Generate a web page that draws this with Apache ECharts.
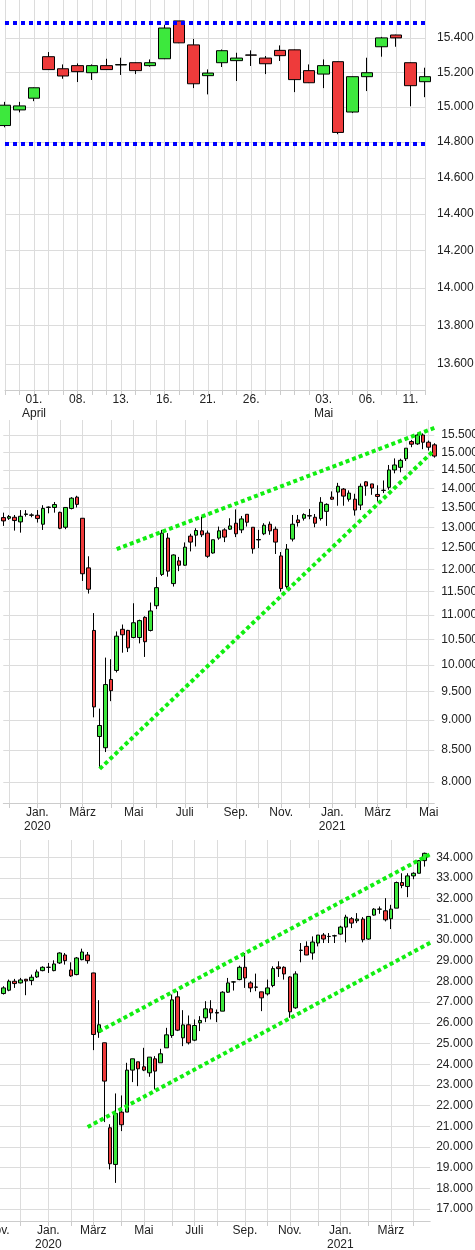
<!DOCTYPE html>
<html>
<head>
<meta charset="utf-8">
<script src="https://cdn.jsdelivr.net/npm/echarts@6/dist/echarts.min.js"></script>
<style>
  html, body { margin: 0; padding: 0; background: #fff; }
  #chart { width: 475px; height: 1250px; }
</style>
</head>
<body>
<div id="chart"></div>
<script>
  // Panel 1: daily candles, 30.03. - 12.05.2021  [open, close, low, high]
  var p1Dates = ['30.03', '31.03', '01.04', '06.04', '07.04', '08.04', '09.04', '12.04', '13.04', '14.04',
    '15.04', '16.04', '19.04', '20.04', '21.04', '22.04', '23.04', '26.04', '27.04', '28.04',
    '29.04', '30.04', '03.05', '04.05', '05.05', '06.05', '07.05', '10.05', '11.05', '12.05']
  var p1LabelDays = ['01.04', '08.04', '13.04', '16.04', '21.04', '26.04', '03.05', '06.05', '11.05']
  var p1Candles = [
    [14894, 15010, 14884, 15029], [14983, 15006, 14969, 15029], [15050, 15110, 15033, 15112],
    [15290, 15215, 15213, 15317], [15220, 15178, 15162, 15245], [15238, 15203, 15143, 15251],
    [15197, 15238, 15155, 15245], [15238, 15215, 15213, 15278], [15242, 15244, 15184, 15284],
    [15255, 15209, 15189, 15257], [15238, 15255, 15232, 15274], [15278, 15458, 15276, 15477],
    [15500, 15371, 15369, 15500], [15359, 15133, 15108, 15394], [15180, 15195, 15072, 15216],
    [15255, 15325, 15230, 15332], [15267, 15282, 15149, 15313], [15300, 15299, 15236, 15327],
    [15282, 15249, 15189, 15294], [15327, 15296, 15265, 15356], [15330, 15157, 15085, 15332],
    [15209, 15139, 15137, 15245], [15189, 15238, 15108, 15274], [15261, 14855, 14845, 15263],
    [14971, 15174, 14965, 15176], [15174, 15197, 15091, 15284], [15348, 15400, 15290, 15406],
    [15417, 15400, 15348, 15419], [15255, 15122, 15004, 15257], [15145, 15174, 15056, 15226]
  ]
  var p1Levels = [15500, 14842]
  var p1Ticks = [13600, 13800, 14000, 14200, 14400, 14600, 14800, 15000, 15200, 15400]

  // Panel 2: weekly candles from 25.11.2019
  var p2Start = '2019-11-25'
  var p2Candles = [
    [13242, 13158, 13033, 13367], [13225, 13267, 13183, 13308], [13250, 13167, 12917, 13308],
    [13133, 13275, 12867, 13433], [13320, 13335, 13267, 13433], [13300, 13310, 13250, 13350],
    [13300, 13217, 13117, 13433], [13075, 13475, 12933, 13558], [13500, 13510, 13350, 13525],
    [13500, 13575, 13367, 13642], [13375, 12976, 12952, 13392], [13000, 13500, 12952, 13500],
    [13475, 13741, 13450, 13768], [13768, 13580, 13500, 13804], [13225, 11897, 11735, 13230],
    [12031, 11551, 11456, 12300], [10678, 9229, 9048, 11037], [8723, 8908, 8221, 9199],
    [8538, 9631, 8468, 10139], [9725, 9519, 9331, 10108], [9894, 10562, 9856, 10658],
    [10701, 10590, 10234, 10799], [10679, 10329, 10247, 10690], [10534, 10836, 10521, 11246],
    [10534, 10880, 10418, 10900], [10948, 10451, 10152, 10970], [10678, 11082, 10658, 11261],
    [11193, 11586, 11121, 11821], [11882, 12855, 11846, 12935], [12734, 11956, 11831, 12855],
    [11676, 12331, 11610, 12346], [12192, 12092, 11956, 12285], [12092, 12516, 12080, 12629],
    [12782, 12637, 12415, 12839], [12806, 12919, 12532, 12976], [12911, 12814, 12758, 13267],
    [12855, 12300, 12262, 12919], [12377, 12694, 12362, 12694], [12734, 12911, 12694, 13017],
    [12935, 12758, 12637, 12976], [12952, 13033, 12935, 13225], [13100, 12839, 12758, 13450],
    [12935, 13208, 12855, 13283], [13325, 13125, 13017, 13325], [13000, 12477, 12362, 13000],
    [12700, 12690, 12492, 12935], [12839, 13050, 12806, 13100], [13075, 12911, 12814, 13142],
    [12952, 12637, 12354, 13017], [12308, 11566, 11500, 12400], [11610, 12469, 11551, 12590],
    [12710, 13075, 12653, 13308], [13183, 13117, 13017, 13308], [13225, 13317, 13167, 13350],
    [13290, 13283, 13200, 13458], [13250, 13100, 13000, 13333], [13217, 13634, 13167, 13768],
    [13400, 13580, 13033, 13607], [13768, 13714, 13696, 13920], [13902, 14056, 13545, 14148],
    [13982, 13795, 13545, 14009], [13714, 13875, 13652, 13946], [13714, 13433, 13292, 13857],
    [13562, 14056, 13433, 14130], [14176, 14065, 13804, 14194], [14120, 14009, 13830, 14120],
    [13839, 13786, 13652, 14083], [13950, 13946, 13875, 14213], [14028, 14500, 13964, 14639],
    [14500, 14639, 14408, 14824], [14574, 14769, 14436, 14815], [14815, 15115, 14750, 15115],
    [15308, 15231, 15144, 15356], [15240, 15500, 15212, 15548], [15500, 15288, 15087, 15548],
    [15288, 15144, 15048, 15337], [15212, 14890, 14845, 15260]
  ]
  // trend lines [index, value]
  var p2Upper = [[20, 12470], [76, 15710]]
  var p2Lower = [[17, 8200], [76, 15060]]
  var p2Ticks = [8000, 8500, 9000, 9500, 10000, 10500, 11000, 11500, 12000, 12500, 13000, 13500, 14000, 14500, 15000, 15500]

  // Panel 3: weekly candles from 28.10.2019 (plus one empty week on each side)
  var p3Start = '2019-10-21'
  var p3Candles = [
    [27100, 27440, 27050, 27500], [27415, 27688, 27367, 27769], [27576, 28010, 27528, 28090],
    [28010, 27897, 27688, 28122], [27929, 28074, 27897, 28170], [28106, 28026, 27335, 28122],
    [28042, 28202, 27817, 28331], [28218, 28459, 28170, 28572], [28523, 28684, 28491, 28732],
    [28680, 28688, 28411, 28893], [28523, 28845, 28491, 29021], [28893, 29375, 28845, 29407],
    [29278, 29005, 28813, 29375], [28556, 28267, 28218, 28925], [28331, 29134, 28299, 29182],
    [29053, 29423, 29021, 29584], [29278, 29005, 28861, 29423], [28411, 25437, 24680, 28420],
    [25549, 25906, 25275, 27094], [25034, 23183, 21202, 25040], [20928, 19189, 18915, 21100],
    [19157, 21621, 18264, 22587], [21685, 21073, 20767, 22490], [21685, 23714, 21685, 24068],
    [23714, 24261, 23134, 24261], [24116, 23778, 22941, 24116], [23875, 23714, 23666, 24792],
    [23585, 24342, 23392, 24342], [24261, 23666, 22780, 24390], [24068, 24503, 24068, 24744],
    [24792, 25420, 24792, 25758], [25388, 27110, 25275, 27367], [27255, 25646, 25600, 27528],
    [25275, 25900, 24873, 26612], [25906, 25034, 24954, 26355], [25163, 25870, 25114, 26163],
    [26002, 26115, 25601, 26323], [26243, 26677, 26034, 27046], [26677, 26484, 26163, 27094],
    [26500, 26470, 26034, 26644], [26564, 27480, 26564, 27528], [27480, 27929, 27447, 28170],
    [27970, 27980, 27560, 28010], [28090, 28684, 28058, 28764], [28684, 28170, 27688, 29375],
    [27929, 27688, 27480, 28010], [27730, 27720, 27528, 28379], [27496, 27207, 26564, 27500],
    [27399, 27688, 27319, 28090], [27801, 28620, 27720, 28732], [28700, 28620, 28218, 28973],
    [28684, 28363, 28090, 28732], [28218, 26532, 26243, 28250], [26725, 28363, 26677, 28491],
    [29500, 29510, 28925, 29857], [29696, 29278, 29270, 29937], [29375, 29905, 29053, 30178],
    [29857, 30242, 29696, 30242], [30242, 30049, 29857, 30338], [30170, 30178, 29857, 30338],
    [30200, 30210, 29857, 30258], [30290, 30627, 30258, 30692], [30627, 31109, 29889, 31222],
    [31029, 30820, 30579, 31109], [30933, 31013, 30820, 31302], [31013, 30017, 29889, 31109],
    [30049, 31141, 30017, 31141], [31206, 31495, 31173, 31543], [31490, 31500, 31270, 31623],
    [31415, 30981, 30901, 32025], [31029, 31495, 30531, 31703], [31543, 32780, 31543, 32828],
    [32780, 32635, 32506, 33229], [32587, 33101, 32073, 33229], [33101, 33229, 32940, 33277],
    [33229, 33839, 33229, 33871], [33839, 34193, 33550, 34225]
  ]
  var p3Upper = [[19, 25585], [78, 34152]]
  var p3Lower = [[17, 20962], [78, 29870]]
  var p3Ticks = [17000, 18000, 19000, 20000, 21000, 22000, 23000, 24000, 25000, 26000,
    27000, 28000, 29000, 30000, 31000, 32000, 33000, 34000]

  var monthNames = ['Jan.', 'Feb.', 'März', 'April', 'Mai', 'Juni', 'Juli', 'Aug.', 'Sep.', 'Okt.', 'Nov.', 'Dez.']

  function weeks(start, n) {
    var out = []
    var d = new Date(start + 'T12:00:00Z')
    for (var i = 0; i < n; i++) {
      out.push(new Date(d.getTime() + i * 7 * 86400000))
    }
    return out
  }
  function fmtNum(v) {
    return String(Math.round(v)).replace(/\B(?=(\d{3})+(?!\d))/g, '.')
  }
  function lg(v) { return Math.log10(v) }
  function lgCandle(c) { return c.map(lg) }

  // Panel 2 month marks: first Monday of a month
  var p2Weeks = weeks(p2Start, p2Candles.length)
  var p2Cats = p2Weeks.map(function (d) { return d.toISOString().slice(0, 10) })
  var p2Month = p2Weeks.map(function (d) { return d.getUTCDate() <= 7 ? d.getUTCMonth() : -1 })
  var p2Year = p2Weeks.map(function (d) { return d.getUTCFullYear() })

  // Panel 3 month marks: week containing the 1st
  var p3Weeks = weeks(p3Start, p3Candles.length + 2)
  var p3Cats = p3Weeks.map(function (d) { return d.toISOString().slice(0, 10) })
  var p3Month = p3Weeks.map(function (d) {
    var e = new Date(d.getTime() + 6 * 86400000)
    if (d.getUTCDate() === 1) return d.getUTCMonth()
    return e.getUTCMonth() !== d.getUTCMonth() ? e.getUTCMonth() : -1
  })
  var p3Year = p3Weeks.map(function (d) { return new Date(d.getTime() + 6 * 86400000).getUTCFullYear() })
  var p3Data = ['-'].concat(p3Candles).concat(['-'])

  var font = { color: '#222', fontSize: 12, fontFamily: 'Liberation Sans, Arial, sans-serif' }
  var grey = '#dcdcdc'
  var candleStyle = {
    color: '#3de83d', color0: '#ee3b3b',
    borderColor: '#000', borderColor0: '#000', borderColorDoji: '#000', borderWidth: 1
  }
  var dotGreen = { color: '#11ee11', width: 4, type: [4, 3] }

  function monthAxis(gridIndex, cats, months, years) {
    var isMark = function (i) { return months[i] >= 0 }
    return {
      type: 'category', gridIndex: gridIndex, data: cats, boundaryGap: false,
      axisLine: { lineStyle: { color: '#ccc' } },
      axisTick: { show: true, interval: isMark, length: 5, lineStyle: { color: '#ccc' } },
      splitLine: { show: true, interval: isMark, lineStyle: { color: grey } },
      axisLabel: Object.assign({
        interval: function (i) { return months[i] >= 0 && months[i] % 2 === 0 },
        lineHeight: 14, margin: 3,
        formatter: function (v, i) {
          var m = months[i]
          return monthNames[m] + (m === 0 ? '\n' + years[i] : '')
        }
      }, font)
    }
  }

  function valueAxis(gridIndex, min, max, ticks, isLog, margin) {
    var vals = isLog ? ticks.map(lg) : ticks
    return {
      type: 'value', gridIndex: gridIndex, position: 'right', min: min, max: max,
      axisLine: { show: false },
      axisTick: { show: false, customValues: vals },
      splitLine: { show: true, lineStyle: { color: grey } },
      axisLabel: Object.assign({
        customValues: vals, margin: margin,
        formatter: function (v) {
          return fmtNum(isLog ? Math.round(Math.pow(10, v) / 100) * 100 : v)
        }
      }, font)
    }
  }

  var chart = echarts.init(document.getElementById('chart'))
  chart.setOption({
    animation: false,
    grid: [
      { left: 5, right: 50, top: 0, height: 390, outerBoundsMode: 'none' },
      { left: 3.3, right: 40.7, top: 420, height: 383, outerBoundsMode: 'none' },
      { left: -7.8, right: 44.8, top: 840, height: 381, outerBoundsMode: 'none' }
    ],
    xAxis: [
      {
        type: 'category', gridIndex: 0, data: p1Dates, boundaryGap: false,
        axisLine: { lineStyle: { color: '#ccc' } },
        axisTick: { show: true, interval: 0, length: 5, lineStyle: { color: '#ccc' } },
        splitLine: { show: true, interval: 0, lineStyle: { color: grey } },
        axisLabel: Object.assign({
          interval: function (i, v) { return p1LabelDays.indexOf(v) >= 0 },
          lineHeight: 14, margin: 3,
          formatter: function (v) {
            var day = v.slice(0, 3)
            if (v === '01.04') return day + '\nApril'
            if (v === '03.05') return day + '\nMai'
            return day
          }
        }, font)
      },
      monthAxis(1, p2Cats, p2Month, p2Year),
      monthAxis(2, p3Cats, p3Month, p3Year)
    ],
    yAxis: [
      valueAxis(0, lg(13466), lg(15624), p1Ticks, true, 12),
      valueAxis(1, lg(7684), lg(15950), p2Ticks, true, 7),
      valueAxis(2, 16422, 34836, p3Ticks, false, 6)
    ],
    series: [
      {
        type: 'candlestick', xAxisIndex: 0, yAxisIndex: 0, barWidth: 12,
        data: p1Candles.map(lgCandle), itemStyle: candleStyle, clip: false,
        markLine: {
          symbol: 'none', silent: true, label: { show: false },
          lineStyle: { color: '#0000ff', width: 4, type: [4, 4] },
          data: p1Levels.map(function (v) { return { yAxis: lg(v) } })
        }
      },
      {
        type: 'candlestick', xAxisIndex: 1, yAxisIndex: 1, barWidth: 4,
        data: p2Candles.map(lgCandle), itemStyle: candleStyle, clip: false
      },
      {
        type: 'line', xAxisIndex: 1, yAxisIndex: 1, symbol: 'none', lineStyle: dotGreen,
        data: p2Upper.map(function (p) { return [p[0], lg(p[1])] })
      },
      {
        type: 'line', xAxisIndex: 1, yAxisIndex: 1, symbol: 'none', lineStyle: dotGreen,
        data: p2Lower.map(function (p) { return [p[0], lg(p[1])] })
      },
      {
        type: 'candlestick', xAxisIndex: 2, yAxisIndex: 2, barWidth: 4,
        data: p3Data, itemStyle: candleStyle
      },
      { type: 'line', xAxisIndex: 2, yAxisIndex: 2, symbol: 'none', lineStyle: dotGreen, data: p3Upper },
      { type: 'line', xAxisIndex: 2, yAxisIndex: 2, symbol: 'none', lineStyle: dotGreen, data: p3Lower }
    ]
  })
</script>
</body>
</html>
